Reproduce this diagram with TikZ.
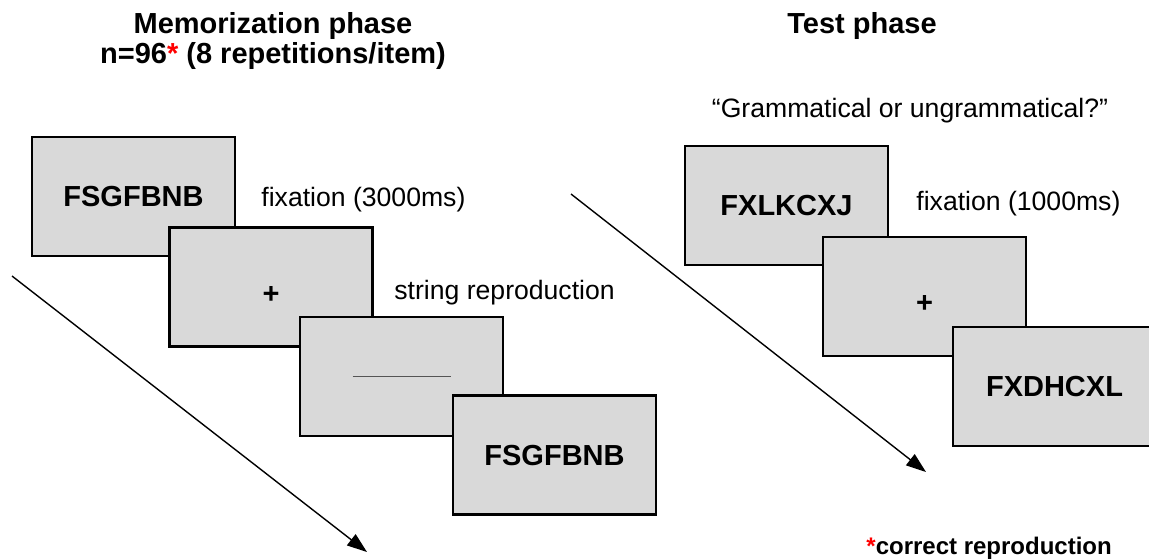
\documentclass[tikz,border=0pt]{standalone}
\usepackage{fontspec}
\setmainfont{Liberation Sans}
\usetikzlibrary{arrows.meta,positioning}
\definecolor{screengray}{RGB}{217,217,217}
\definecolor{dashgray}{RGB}{85,85,85}

\begin{document}
\begin{tikzpicture}[x=0.5pt,y=-0.5pt,>={Triangle[length=10pt,width=7pt]},
  every node/.style={inner sep=0pt},
  screen/.style={draw,line width=1.2pt,fill=screengray,minimum width=101.5pt,
    minimum height=59.5pt,font=\bfseries\fontsize{14.5}{17}\selectfont,
    text height=10.4pt,text depth=0pt},
  heading/.style={font=\bfseries\fontsize{14.5}{17}\selectfont,anchor=base},
  cue/.style={font=\fontsize{13.3}{16}\selectfont,anchor=base west},
  flow/.style={->,line width=0.7pt}]
  \path[clip,use as bounding box] (0,0) rectangle (1149,559);
  % memorization phase
  \node[heading] (memtitle) at (273,33) {Memorization phase};
  \node[heading] (memcount) at (273,63) {n=96\textcolor{red}{*} (8 repetitions/item)};
  \node[screen] (study) at (133.5,196.5) {FSGFBNB};
  \node[screen] (memfix) at (271,287) {\raisebox{-3pt}{+}};
  \node[screen] (blank) at (401.5,376.5) {\textcolor{dashgray}{\rule[5.2pt]{49pt}{0.5pt}}};
  \node[screen] (recall) at (554.5,455) {FSGFBNB};
  \node[cue] (memfixlabel) at (261,206) {fixation (3000ms)};
  \node[cue] (recalllabel) at (394,299) {string reproduction};
  \coordinate (memfrom) at (12,276);
  \coordinate (memto) at (367,552);
  \draw[flow] (memfrom) -- (memto);
  % test phase
  \node[heading] (testtitle) at (862,33) {Test phase};
  \node[cue,anchor=base] (question) at (910,117) {“Grammatical or ungrammatical?”};
  \node[screen] (probe) at (786.5,205.5) {FXLKCXJ};
  \node[screen] (testfix) at (924.5,296.5) {\raisebox{-3pt}{+}};
  \node[screen] (judge) at (1054.5,386.5) {FXDHCXL};
  \node[cue] (testfixlabel) at (916,210) {fixation (1000ms)};
  \coordinate (testfrom) at (571,194);
  \coordinate (testto) at (926,472);
  \draw[flow] (testfrom) -- (testto);
  \node[anchor=base west,font=\bfseries\fontsize{12}{14}\selectfont] (note)
    at (866,554) {\textcolor{red}{*}correct reproduction};
\end{tikzpicture}
\end{document}
